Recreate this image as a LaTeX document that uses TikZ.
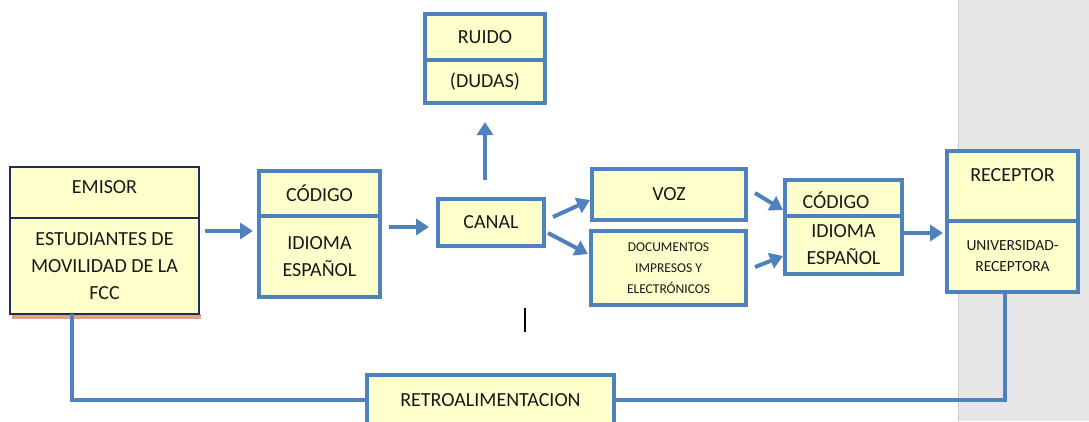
\documentclass[tikz,border=0pt]{standalone}
\usepackage{fontspec}
\setmainfont{Carlito}
\usetikzlibrary{positioning,arrows.meta}
\definecolor{boxblue}{HTML}{4F81BD}
\definecolor{boxfill}{HTML}{FFFFCC}
\definecolor{navy}{HTML}{1F2D5C}
\definecolor{tanshadow}{HTML}{D8A482}
\definecolor{pagegray}{HTML}{E6E6E6}
\newcommand\bigtxt{\fontsize{20pt}{27pt}\selectfont}
\newcommand\smalltxt{\fontsize{13.5pt}{21pt}\selectfont}
\newcommand\midtxt{\fontsize{15.5pt}{21pt}\selectfont}
\tikzset{
ybox/.style={
    draw=boxblue, fill=boxfill,
    line width=4pt,
    outer sep=0pt, inner sep=0pt,
    align=center, font=\bigtxt, text=black!90,
    minimum width=#1
},
navybox/.style={
    ybox=#1,
    draw=navy, line width=1.6pt
},
flow/.style={draw=boxblue, line width=4pt, -{Triangle[length=13pt,width=16pt]}},
backline/.style={draw=boxblue, line width=4pt},
}

\begin{document}
\begin{tikzpicture}[x=1pt,y=-1pt]
\useasboundingbox (0,0) rectangle (1089,421);
% page edge on the right
\fill[pagegray] (958,0) rectangle (1089,421);
\draw[black!20, line width=1pt] (958,0) -- (958,421);

% sender
\fill[tanshadow] (12,314) rectangle (201,319);
\node[navybox=189pt, minimum height=51pt, anchor=north west, text depth=10pt] at (10,167) (emisortop) {EMISOR};
\node[navybox=189pt, minimum height=96pt, below=0pt of emisortop] (emisorbot) {ESTUDIANTES DE\\MOVILIDAD DE LA\\FCC};

% first code
\node[ybox=121pt, minimum height=45pt, anchor=north west] at (259,171) (cod1top) {CÓDIGO};
\node[ybox=121pt, minimum height=81pt, below=0pt of cod1top] (cod1bot) {IDIOMA\\ESPAÑOL};

% channel and noise
\node[ybox=106pt, minimum height=47pt, anchor=north west] at (438,199) (canal) {CANAL};
\node[ybox=120pt, minimum height=46pt, anchor=north west] at (425,14) (ruidotop) {RUIDO};
\node[ybox=120pt, minimum height=43pt, below=0pt of ruidotop] (ruidobot) {(DUDAS)};

% media
\node[ybox=154pt, minimum height=51pt, anchor=north west] at (592,169) (voz) {VOZ};
\node[ybox=155pt, minimum height=74pt, anchor=north west, font=\smalltxt] at (591,231) (docs) {DOCUMENTOS\\IMPRESOS Y\\ELECTRÓNICOS};

% second code
\node[ybox=117pt, minimum height=36pt, anchor=north west, text height=22pt] at (785,180) (cod2top) {\hspace*{-15pt}CÓDIGO};
\node[ybox=117pt, minimum height=58pt, below=0pt of cod2top] (cod2bot) {IDIOMA\\ESPAÑOL};

% receiver
\node[ybox=131pt, minimum height=70pt, anchor=north west, text depth=22pt] at (947,151) (rectop) {RECEPTOR};
\node[ybox=131pt, minimum height=71pt, below=0pt of rectop, font=\midtxt] (recbot) {UNIVERSIDAD-\\RECEPTORA};

% feedback
\node[ybox=247pt, minimum height=50pt, anchor=north west] at (367,375) (retro) {RETROALIMENTACION};
\draw[backline] ([xshift=-32.5pt]emisorbot.south) |- (retro.west);
\draw[backline] (retro.east) -| ([xshift=-7.5pt]recbot.south);

% arrows
\draw[flow, shorten <=6pt, shorten >=6pt] ([yshift=35pt]emisorbot.east) -- ([yshift=35pt]emisorbot.east -| cod1bot.west);
\draw[flow, shorten <=9pt, shorten >=9pt] ([yshift=-4.5pt]canal.west -| cod1bot.east) -- ([yshift=-4.5pt]canal.west);
\draw[flow, shorten <=19pt, shorten >=19pt] ([xshift=-6pt]canal.north) -- ([xshift=-6pt]canal.north |- ruidobot.south);
\draw[flow] ([shift={(9pt,5.5pt)}]canal.east) -- ([shift={(-2pt,-5.5pt)}]voz.west);
\draw[flow] ([shift={(4pt,-10.5pt)}]canal.east) -- ([shift={(-3pt,14pt)}]docs.west);
\draw[flow] ([shift={(9pt,1.5pt)}]voz.east) -- ([shift={(-2pt,-12pt)}]cod2top.west);
\draw[flow] ([shift={(9pt,1pt)}]docs.east) -- ([shift={(-2pt,-11pt)}]cod2bot.west);
\draw[flow, shorten <=2pt, shorten >=4pt] ([yshift=12pt]cod2bot.east) -- ([yshift=12pt]cod2bot.east -| recbot.west);

% text cursor
\draw[black, line width=1.5pt] (525,308) -- (525,332);
\end{tikzpicture}
\end{document}
